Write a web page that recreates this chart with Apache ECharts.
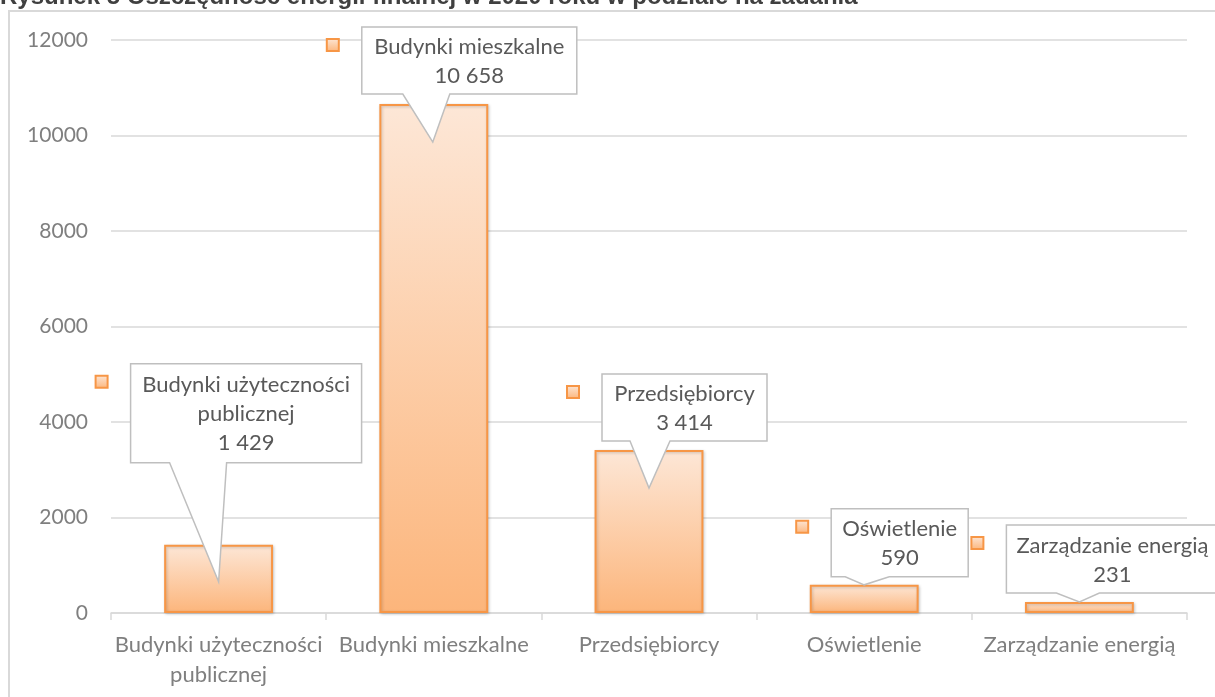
<!DOCTYPE html>
<html>
<head>
<meta charset="utf-8"/>
<title>Oszczędność energii finalnej</title>
<script type="text/javascript" src="https://cdn.jsdelivr.net/npm/echarts@6/dist/echarts.min.js"></script>
<style type="text/css">
	body{
		margin: 0px;
		padding: 0px;
		background: #fff;
	}
	#chart{
		width: 1215px;
		height: 697px;
	}
</style>
</head>
<body>
	<div id="chart"></div>
<script type="text/javascript">
	// dane
	var title_text = 'Rysunek 5 Oszczędność energii finalnej w 2020 roku w podziale na zadania';
	var categories = ['Budynki użyteczności\npublicznej', 'Budynki mieszkalne', 'Przedsiębiorcy', 'Oświetlenie', 'Zarządzanie energią'];
	var callout_names = ['Budynki użyteczności\npublicznej', 'Budynki mieszkalne', 'Przedsiębiorcy', 'Oświetlenie', 'Zarządzanie energią'];
	var values = [1429, 10658, 3414, 590, 231];
	var y_min = 0;
	var y_max = 12000;
	var y_step = 2000;

	// położenie dymków względem szczytu słupka: [dx, dy, szer, wys]
	var box_pos = [[-88, -181, 231, 99], [-72, -77, 215, 67], [-47, -76, 165, 67], [-33, -76, 137, 68], [-73, -77, 212, 68]];
	// ostrze dymka: [tip dx, tip dy, podstawa x0, podstawa x1]
	var tip_pos = [[0, 37, -49, 8], [-1, 38, -31, 16], [0, 38, -19, 21], [0, 0, -19, 25], [0, 0, -23, 20]];

	var font_name = 'Lato';
	var orange = '#f79646';

	function fmt(v){
		return String(v).replace(/\B(?=(\d{3})+(?!\d))/g, ' ');
	}
	function barFill(){
		return new echarts.graphic.LinearGradient(0, 0, 0, 1, [
			{offset: 0, color: '#fde7d7'},
			{offset: 1, color: '#fcb57b'}
		]);
	}

	var callout_data = [];
	for(var i=0;i<values.length;i++){
		callout_data.push([i, values[i]]);
	}

	// dymek z opisem
	function renderCallout(params, api){
		var i = api.value(0);
		var top = api.coord([i, api.value(1)]);
		var b = box_pos[i];
		var t = tip_pos[i];
		var L = top[0] + b[0], T = top[1] + b[1];
		var R = L + b[2], B = T + b[3];
		var pts = [[L, T], [R, T], [R, B], [top[0] + t[3], B], [top[0] + t[0], top[1] + t[1]], [top[0] + t[2], B], [L, B]];
		return {
			type: 'group',
			children: [{
				type: 'polygon',
				shape: {points: pts},
				style: {fill: '#fff', stroke: '#bfbfbf', lineWidth: 1.5}
			}, {
				type: 'text',
				style: {
					text: callout_names[i] + '\n' + fmt(values[i]),
					x: (L + R) / 2,
					y: (T + B) / 2 + 1,
					align: 'center',
					verticalAlign: 'middle',
					fontFamily: font_name,
					fontSize: 22,
					lineHeight: 29,
					fill: '#595959'
				}
			}, {
				type: 'rect',
				shape: {x: L - 35, y: T + 12, width: 12, height: 12},
				style: {fill: barFill(), stroke: orange, lineWidth: 2}
			}]
		};
	}

	var option = {
		backgroundColor: '#fff',
		animation: false,
		textStyle: {fontFamily: font_name},
		grid: {left: 111, right: 28, top: 40, bottom: 84},
		graphic: [{
			type: 'polyline',
			shape: {points: [[9, 697], [9, 11], [1215, 11]]},
			style: {stroke: '#d9d9d9', lineWidth: 2, fill: null}
		}, {
			type: 'text',
			style: {
				text: title_text,
				x: 0,
				y: -3,
				verticalAlign: 'middle',
				font: 'bold 24px "Liberation Sans"',
				fill: '#404040'
			}
		}],
		xAxis: {
			type: 'category',
			data: categories,
			axisLine: {lineStyle: {color: '#d9d9d9', width: 1.5}},
			axisTick: {show: true, length: 7, lineStyle: {color: '#d9d9d9', width: 1.5}},
			axisLabel: {color: '#7f7f7f', fontSize: 22, lineHeight: 30, margin: 17, interval: 0}
		},
		yAxis: {
			type: 'value',
			min: y_min,
			max: y_max,
			interval: y_step,
			axisLine: {show: false},
			axisTick: {show: false},
			splitLine: {lineStyle: {color: '#d9d9d9', width: 1.5}},
			axisLabel: {color: '#7f7f7f', fontSize: 21, margin: 23, formatter: function(v){ return String(v); }}
		},
		series: [{
			type: 'bar',
			data: values,
			barWidth: '50.6%',
			itemStyle: {
				color: barFill(),
				borderColor: orange,
				borderWidth: 2,
				shadowBlur: 3,
				shadowColor: 'rgba(0,0,0,0.2)',
				shadowOffsetX: 1,
				shadowOffsetY: 1
			}
		}, {
			type: 'custom',
			clip: false,
			z: 5,
			data: callout_data,
			renderItem: renderCallout
		}]
	};

	var myChart = echarts.init(document.getElementById('chart'));
	myChart.setOption(option);
</script>
</body>
</html>
